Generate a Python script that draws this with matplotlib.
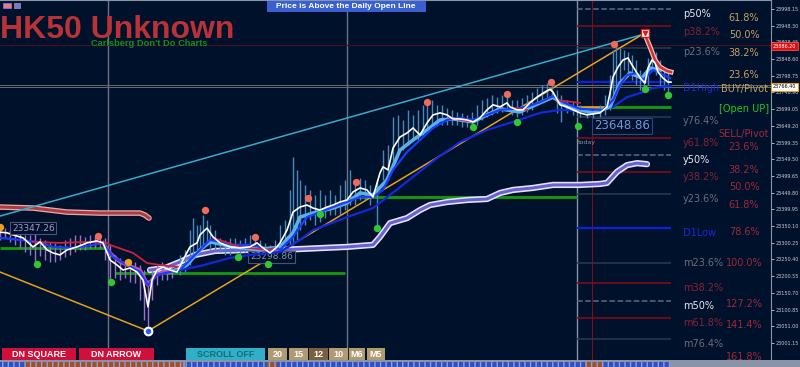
import numpy as np
import matplotlib
matplotlib.use("Agg")
import matplotlib.pyplot as plt
from matplotlib.patches import Rectangle

nan = np.nan
BG = '#00112b'

# price line (white)
close_x = [0, 7, 13, 23, 33, 40, 47, 53, 60, 67,
           77, 87, 97, 103, 110, 117, 123, 130, 137, 143,
           148, 152, 157, 163, 170, 177, 183, 190, 197, 200,
           207, 213, 220, 230, 240, 250, 257, 263, 270, 277,
           280, 287, 293, 300, 307, 313, 320, 327, 333, 340,
           347, 353, 360, 367, 373, 380, 383, 388, 393, 400,
           407, 413, 420, 427, 433, 440, 447, 453, 460, 467,
           473, 480, 487, 493, 500, 507, 510, 517, 523, 530,
           537, 543, 550, 553, 560, 567, 573, 580, 587, 593,
           600, 607, 610, 613, 618, 623, 628, 632, 637, 642,
           645, 648, 652, 655, 658, 663, 668, 671]
close_y = [23332, 23330, 23324, 23315, 23288, 23303, 23279, 23270, 23264, 23279,
           23288, 23300, 23306, 23300, 23249, 23234, 23219, 23225, 23213, 23189,
           23109, 23189, 23219, 23228, 23219, 23213, 23249, 23288, 23300, 23324,
           23344, 23318, 23300, 23288, 23285, 23288, 23300, 23285, 23270, 23288,
           23300, 23338, 23392, 23407, 23413, 23404, 23398, 23407, 23413, 23422,
           23428, 23452, 23464, 23458, 23437, 23509, 23527, 23518, 23583, 23616,
           23628, 23643, 23622, 23658, 23682, 23688, 23682, 23670, 23670, 23667,
           23661, 23673, 23697, 23712, 23706, 23718, 23706, 23697, 23697, 23718,
           23735, 23747, 23759, 23750, 23712, 23706, 23697, 23688, 23682, 23685,
           23688, 23706, 23747, 23795, 23825, 23846, 23852, 23831, 23807, 23786,
           23777, 23822, 23846, 23837, 23810, 23792, 23780, 23780]

# fast moving average (blue)
fast_x = [0, 20, 37, 53, 73, 93, 103, 113, 127, 140,
          148, 157, 170, 180, 190, 200, 210, 220, 233, 253,
          267, 277, 280, 293, 307, 320, 333, 347, 360, 373,
          383, 393, 407, 420, 433, 447, 460, 473, 487, 500,
          513, 527, 540, 553, 563, 580, 603, 613, 620, 627,
          637, 643, 648, 653, 660, 670]
fast_y = [23315, 23309, 23303, 23288, 23285, 23294, 23300, 23258, 23234, 23213,
          23174, 23204, 23213, 23219, 23249, 23279, 23309, 23303, 23294, 23294,
          23279, 23285, 23279, 23318, 23377, 23392, 23407, 23422, 23437, 23437,
          23458, 23518, 23571, 23607, 23643, 23667, 23673, 23667, 23682, 23697,
          23700, 23706, 23720, 23738, 23720, 23700, 23697, 23726, 23771, 23801,
          23807, 23786, 23801, 23816, 23807, 23792]

# light blue average under the price
lb_x = [170, 187, 200, 210, 233, 260, 280, 293, 300, 313,
        333, 347, 360, 373, 387, 400, 413, 427, 440, 453,
        473, 487, 500, 520, 540, 553, 567, 593, 610, 620,
        630, 642, 650, 660]
lb_y = [23213, 23234, 23279, 23303, 23288, 23279, 23288, 23330, 23377, 23389,
        23404, 23419, 23449, 23443, 23488, 23577, 23607, 23637, 23667, 23670,
        23661, 23682, 23700, 23691, 23718, 23735, 23706, 23688, 23706, 23777,
        23807, 23792, 23822, 23816]

# same average while falling (pink)
pink_x = [103, 110, 120, 130, 140, 148, 155, 163, 170]
pink_y = [23300, 23270, 23243, 23231, 23219, 23174, 23201, 23213, 23213]

# slow average (dark blue)
slow_x = [180, 200, 230, 250, 273, 280, 300, 313, 347, 373,
          390, 413, 437, 460, 487, 513, 540, 560, 580, 603,
          613, 627, 640, 653, 667, 671]
slow_y = [23219, 23231, 23255, 23264, 23270, 23273, 23309, 23338, 23377, 23404,
          23443, 23497, 23553, 23601, 23637, 23661, 23688, 23697, 23694, 23697,
          23706, 23735, 23747, 23762, 23768, 23768]

# very slow average (lavender band)
lav_x = [150, 165, 180, 195, 215, 250, 280, 347, 373, 380,
         390, 407, 420, 430, 447, 467, 487, 500, 513, 533,
         553, 580, 600, 607, 617, 627, 637, 647]
lav_y = [23219, 23225, 23243, 23264, 23276, 23279, 23279, 23288, 23294, 23318,
         23359, 23374, 23398, 23413, 23422, 23428, 23431, 23449, 23458, 23464,
         23473, 23473, 23476, 23479, 23512, 23532, 23538, 23535]

# red average (shown only while price is under it)
red_x = [33, 60, 90, 107, 110, 133, 147, 160, 180, 181,
         213, 240, 267, 277, 278, 450, 473, 474, 513, 527,
         528, 557, 580]
red_y = [23303, 23300, 23303, 23300, 23294, 23270, 23240, 23234, 23228, nan,
         23315, 23288, 23279, 23285, nan, 23673, 23661, nan, 23703, 23697,
         nan, 23726, 23718]
peak_red_x = [645, 650, 655, 660, 667, 671]
peak_red_y = [23921, 23885, 23846, 23825, 23813, 23810]

# old band top left
band_x = [0, 33, 67, 100, 140, 145, 149]
band_y = [23407, 23404, 23392, 23389, 23389, 23383, 23374]

# zigzag and trend line
zz_x = [0, 148, 645]
zz_y = [23213, 23037, 23927]
trend_x = [0, 645]
trend_y = [23380, 23924]

# daily open lines
open_start = [0, 115, 350, 608]
open_end = [107, 345, 577, 671]
open_price = [23285, 23210, 23437, 23706]

# candle ranges
bar_x = [180, 185, 190, 193, 197, 200, 203, 207, 210, 215,
         220, 225, 230, 235, 240, 245, 250, 255, 260, 265,
         270, 275, 280, 285, 290, 293, 297, 300, 305, 310,
         315, 320, 325, 330, 335, 340, 345, 350, 355, 360,
         365, 370, 377, 383, 388, 393, 398, 403, 408, 413,
         418, 423, 427, 432, 437, 442, 447, 452, 457, 462,
         467, 472, 477, 482, 487, 492, 497, 502, 507, 512,
         517, 522, 527, 532, 537, 542, 547, 552, 557, 561,
         567, 573, 580, 587, 593, 600, 605, 610, 613, 616,
         620, 624, 628, 632, 636, 640, 644, 648, 652, 656,
         660, 664, 668]
bar_hi = [23264, 23279, 23338, 23374, 23353, 23353, 23383, 23368, 23353, 23338,
          23315, 23309, 23315, 23315, 23309, 23315, 23324, 23324, 23309, 23300,
          23294, 23309, 23353, 23368, 23458, 23556, 23518, 23488, 23473, 23458,
          23443, 23458, 23443, 23458, 23443, 23473, 23488, 23518, 23479, 23494,
          23488, 23473, 23488, 23577, 23592, 23676, 23682, 23667, 23697, 23682,
          23697, 23712, 23720, 23726, 23712, 23712, 23703, 23697, 23691, 23688,
          23682, 23691, 23712, 23726, 23732, 23741, 23735, 23741, 23744, 23726,
          23726, 23732, 23741, 23750, 23762, 23771, 23777, 23780, 23756, 23741,
          23726, 23720, 23712, 23703, 23703, 23712, 23741, 23801, 23876, 23891,
          23882, 23876, 23870, 23861, 23846, 23816, 23810, 23852, 23876, 23870,
          23846, 23822, 23810]
bar_lo = [23204, 23213, 23234, 23264, 23279, 23279, 23294, 23294, 23279, 23279,
          23273, 23264, 23264, 23273, 23264, 23273, 23279, 23279, 23255, 23249,
          23243, 23255, 23255, 23279, 23294, 23294, 23309, 23338, 23353, 23368,
          23353, 23362, 23374, 23383, 23383, 23383, 23398, 23413, 23413, 23428,
          23428, 23413, 23344, 23488, 23488, 23518, 23562, 23577, 23592, 23607,
          23607, 23622, 23637, 23643, 23652, 23652, 23652, 23652, 23652, 23646,
          23646, 23646, 23652, 23667, 23676, 23682, 23688, 23691, 23697, 23682,
          23676, 23682, 23691, 23697, 23712, 23726, 23735, 23735, 23688, 23661,
          23688, 23682, 23676, 23673, 23673, 23676, 23682, 23697, 23741, 23756,
          23786, 23816, 23801, 23786, 23771, 23756, 23762, 23771, 23816, 23801,
          23771, 23756, 23750]
dn_bar_x = [0, 5, 10, 15, 20, 25, 30, 35, 40, 45,
            50, 55, 60, 65, 70, 75, 80, 85, 90, 95,
            100, 105, 110, 115, 120, 125, 130, 135, 140, 144,
            148, 152, 157, 162, 167, 172]
dn_bar_hi = [23344, 23344, 23338, 23332, 23332, 23324, 23324, 23332, 23315, 23309,
             23303, 23300, 23294, 23309, 23315, 23324, 23324, 23318, 23324, 23321,
             23321, 23315, 23294, 23264, 23255, 23249, 23243, 23243, 23234, 23219,
             23189, 23219, 23234, 23243, 23234, 23234]
dn_bar_lo = [23309, 23315, 23303, 23294, 23285, 23273, 23264, 23243, 23261, 23249,
             23243, 23243, 23249, 23258, 23264, 23273, 23279, 23279, 23285, 23285,
             23285, 23249, 23189, 23195, 23189, 23195, 23183, 23180, 23129, 23070,
             23034, 23129, 23174, 23189, 23189, 23195]

# swing dots
hi_dot_x = [98, 205, 255, 308, 356, 427, 507, 551, 614]
hi_dot_y = [23321, 23398, 23318, 23434, 23482, 23720, 23744, 23780, 23894]
or_dot_x = [0, 128]
or_dot_y = [23347, 23243]
lo_dot_x = [37, 111, 238, 268, 320, 377, 473, 517, 578, 645, 668]
lo_dot_y = [23237, 23183, 23258, 23237, 23386, 23344, 23646, 23661, 23649, 23759, 23741]

# fibonacci levels drawn for today
lvl_price = [23998, 23947, 23882, 23780, 23676, 23613, 23562, 23512, 23446,
             23344, 23240, 23180, 23127, 23077, 23013]
lvl_kind = ['dash', 'red', 'gray', 'blue', 'gray', 'red', 'dash', 'red', 'gray',
            'blue', 'gray', 'red', 'dash', 'red', 'gray']
lvl_names = ['p50%', 'p38.2%', 'p23.6%', 'D1High', 'y76.4%', 'y61.8%', 'y50%', 'y38.2%',
             'y23.6%', 'D1Low', 'm23.6%', 'm38.2%', 'm50%', 'm61.8%', 'm76.4%']
name_price = [23983, 23929, 23870, 23762, 23664, 23598, 23547, 23497,
              23431, 23330, 23240, 23165, 23112, 23061, 22998]
name_kind = ['white', 'red', 'gray', 'blue', 'gray', 'red', 'white', 'red',
             'gray', 'blue', 'gray', 'red', 'white', 'red', 'gray']
pct_names = ['61.8%', '50.0%', '38.2%', '23.6%', 'BUY/Pivot', '[Open UP]', 'SELL/Pivot',
             '23.6%', '38.2%', '50.0%', '61.8%', '78.6%', '100.0%', '127.2%', '141.4%', '161.8%']
pct_price = [23971, 23921, 23867, 23801, 23759, 23700, 23625,
             23586, 23518, 23467, 23413, 23332, 23240, 23118, 23055, 22959]
pct_kind = ['tan', 'tan', 'tan', 'tan', 'tan', 'green', 'red',
            'red', 'red', 'red', 'red', 'red', 'red', 'red', 'red', 'red']

tick_vals = [23998.15, 23948.30, 23898.45, 23848.60, 23798.75, 23748.90, 23699.05,
             23649.20, 23599.35, 23549.50, 23499.65, 23449.80, 23399.95, 23350.10,
             23300.25, 23250.40, 23200.55, 23150.70, 23100.85, 23051.00, 23001.15]

colors = {'dash': '#5a6a80', 'red': '#8a0a14', 'gray': '#2c3a4e', 'blue': '#0a22e8',
          'white': '#e8e8f0', 'tan': '#c8a060', 'green': '#20c020'}
text_colors = dict(colors, red='#8c2030', gray='#6a6e78', blue='#1a2ad8')
pct_colors = {'tan': '#c8a060', 'green': '#22c822', 'red': '#a02838'}

fig = plt.figure(figsize=(8, 3.67), dpi=100, facecolor=BG)
ax = fig.add_axes([0, 7 / 367, 771 / 800, 360 / 367], facecolor=BG)
ax.set_xlim(0, 771)
ax.set_ylim(22950.4, 24025)

# background grid lines
for xv in [108, 347]:
    ax.axvline(xv, color='#6c7486', lw=1, zorder=1)
ax.axvline(577, color='#8890a4', lw=1, zorder=1)
ax.axvline(592, color='#7a1018', lw=0.8, zorder=1)
ax.axhline(23891, color='#4a1020', lw=0.8, zorder=1)
ax.axhline(23771, color='#6a6a6a', lw=0.7, zorder=1)
ax.axhline(23765, color='#6a6a6a', lw=0.7, zorder=1)

for p, k in zip(lvl_price, lvl_kind):
    ls = '--' if k == 'dash' else '-'
    lw = 1.5 if k == 'blue' else 1.1
    ax.hlines(p, 577, 671, color=colors[k], lw=lw, ls=ls, zorder=2)

for x0, x1, p in zip(open_start, open_end, open_price):
    ax.hlines(p, x0, x1, color='#129a12', lw=2, zorder=2)
ax.hlines(open_price[-1], 577, 608, color='#d8a020', lw=2, zorder=2)

# lavender band and old red band
ax.plot(lav_x, lav_y, color='#e4e4ff', lw=4.5, zorder=3, solid_capstyle='round')
ax.plot(lav_x, lav_y, color='#6a60d0', lw=2.2, zorder=3)
ax.plot(band_x, band_y, color='#e0b0b0', lw=4, zorder=3, solid_capstyle='round')
ax.plot(band_x, band_y, color='#b03a40', lw=2.2, zorder=3)

ax.plot(trend_x, trend_y, color='#3aaac8', lw=1.1, zorder=3)
ax.plot(zz_x, zz_y, color='#e8a020', lw=1.1, zorder=3)

# candles
ax.vlines(dn_bar_x, dn_bar_lo, dn_bar_hi, color='#9a70c8', lw=1, zorder=4)
ax.vlines(bar_x, bar_lo, bar_hi, color='#4a88c0', lw=1, zorder=4)

ax.plot(slow_x, slow_y, color='#1428d8', lw=1.6, zorder=5)
ax.plot(lb_x, lb_y, color='#5ab0e8', lw=2.6, zorder=5)
ax.plot(pink_x, pink_y, color='#c050b0', lw=2.6, zorder=5)
ax.plot(fast_x, fast_y, color='#1a3cff', lw=1.6, zorder=6)
ax.plot(red_x, red_y, color='#d0203c', lw=1.3, zorder=6)
ax.plot(peak_red_x, peak_red_y, color='#f0c0c0', lw=3.6, zorder=6)
ax.plot(peak_red_x, peak_red_y, color='#d03030', lw=1.8, zorder=6)
ax.plot(close_x, close_y, color='white', lw=1.2, zorder=7)

ax.scatter(hi_dot_x, hi_dot_y, s=28, color='#f06a58', zorder=8, linewidths=0)
ax.scatter(or_dot_x, or_dot_y, s=28, color='#f0a020', zorder=8, linewidths=0)
ax.scatter(lo_dot_x, lo_dot_y, s=28, color='#30c830', zorder=8, linewidths=0)
ax.plot(zz_x[2], zz_y[2], marker='s', ms=6, color='white', mec='#d02020', zorder=9)
ax.plot(zz_x[2], zz_y[2], marker='v', ms=3, color='#d02020', zorder=9)
ax.plot(zz_x[1], zz_y[1], marker='o', ms=6, color='white', zorder=9)
ax.plot(zz_x[1], zz_y[1], marker='o', ms=3, color='#3060e0', zorder=9)

# level names
for n, p, k in zip(lvl_names, name_price, name_kind):
    ax.text(683, p, n, color=text_colors[k], fontsize=7, va='center', ha='left', zorder=9)
for n, p, k in zip(pct_names, pct_price, pct_kind):
    ax.text(744, p, n, color=pct_colors[k], fontsize=7, va='center', ha='center', zorder=9)

box = dict(facecolor=BG, edgecolor='#4a5478', pad=1.2, lw=0.8)
ax.text(12, 23344, '23347.26', color='#a898c8', fontsize=6.5, va='center', bbox=box, zorder=9)
ax.text(250, 23258, '23298.86', color='#8090a8', fontsize=6.5, va='center', bbox=box, zorder=4)
ax.text(594, 23649, '23648.86', color='#7098d8', fontsize=8.5, va='center',
        bbox=dict(facecolor=BG, edgecolor='#2c4680', pad=1.2, lw=0.8), zorder=9)
ax.text(578, 23601, 'today', color='#8890a0', fontsize=4.5, va='center', zorder=9)

# right price axis
for s in ['left', 'bottom']:
    ax.spines[s].set_visible(False)
ax.spines['right'].set_color('#8a94a8')
ax.spines['top'].set_color('#8a94a8')
ax.set_xticks([])
ax.yaxis.tick_right()
ax.set_yticks(tick_vals)
ax.set_yticklabels(['%.2f' % v for v in tick_vals])
ax.tick_params(axis='y', labelsize=3.5, colors='#c8cad0', length=2.5, pad=0.8, width=0.6)


def frect(x0, y0, x1, y1, **kw):
    fig.add_artist(Rectangle((x0 / 800, 1 - y1 / 367), (x1 - x0) / 800, (y1 - y0) / 367,
                             transform=fig.transFigure, **kw))


def ftext(x, y, s, **kw):
    fig.text(x / 800, 1 - y / 367, s, **kw)


# price tags on the axis
frect(771, 42, 798, 50, facecolor='#e01010', edgecolor='#ff6060', lw=0.5)
ftext(784.5, 46, '23886.20', color='white', fontsize=3.5, ha='center', va='center')
frect(771, 83, 798, 91, facecolor='white', edgecolor='#e0a020', lw=0.8)
ftext(784.5, 87, '23766.40', color='black', fontsize=3.5, ha='center', va='center')

# header
frect(3, 3, 11, 8, facecolor='#e08080', edgecolor='#8080ff', lw=0.5)
frect(14, 3, 20, 8, facecolor='#6080e0', edgecolor='#e08080', lw=0.5)
ftext(0, 37.5, 'HK50 Unknown', color='#b83236', fontsize=23, fontweight='bold',
      family='Liberation Sans', va='baseline')
ftext(91, 46.5, "Carlsberg Don't Do Charts", color='#1a8a1a', fontsize=6.7, fontweight='bold',
      family='Liberation Sans', va='baseline')
frect(267, 1, 426, 12, facecolor='#3a5fd0', edgecolor='none')
ftext(346, 6.5, 'Price is Above the Daily Open Line', color='white', fontsize=6,
      fontweight='bold', family='Liberation Sans', ha='center', va='center')

# buttons
buttons = [('DN SQUARE', 2, 76, '#d0103a', 'white'), ('DN ARROW', 79, 154, '#d0103a', 'white'),
           ('SCROLL OFF', 186, 265, '#30b0c8', '#176a78'), ('20', 268, 287, '#b09a70', 'white'),
           ('15', 289, 308, '#b09a70', 'white'), ('12', 309, 328, '#7a6040', 'white'),
           ('10', 329, 348, '#b09a70', 'white'), ('M6', 349, 365, '#b09a70', 'white'),
           ('M5', 367, 385, '#b09a70', 'white')]
for lab, x0, x1, fc, tc in buttons:
    frect(x0, 348, x1, 360, facecolor=fc, edgecolor='none')
    ftext((x0 + x1) / 2, 354.5, lab, color=tc, fontsize=6.5, fontweight='bold',
          family='Liberation Sans', ha='center', va='center')

# bottom strip
frect(0, 360, 800, 367, facecolor='#8a94a8', edgecolor='none')
strip = [(0, 25, '#3050c0'), (25, 183, '#a05028'), (185, 267, '#3050c0'), (267, 277, '#a05028'),
         (277, 585, '#3050c0'), (585, 603, '#a05028'), (603, 670, '#3050c0')]
for x0, x1, c in strip:
    frect(x0, 362, x1, 367, facecolor=c, edgecolor='#8aa0e0', lw=0, hatch='|||')

plt.savefig('out.png', dpi=100, facecolor=BG)
